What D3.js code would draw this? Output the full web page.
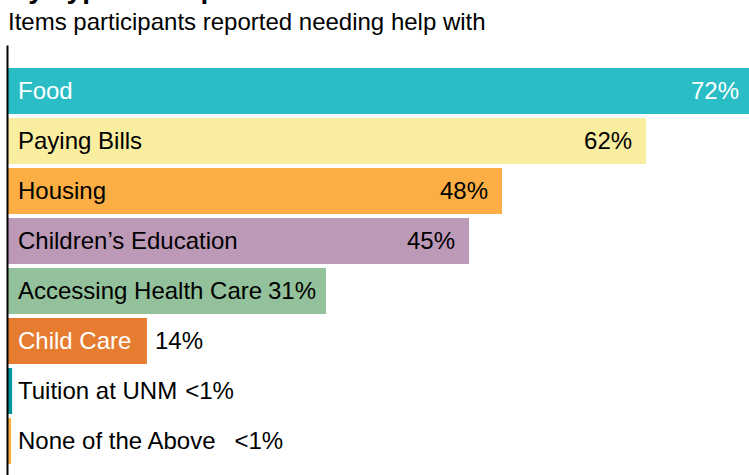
<!DOCTYPE html>
<meta charset="utf-8">
<script src="https://d3js.org/d3.v7.min.js"></script>
<style>
  body { margin: 0; background: #fff; }
  text { font-family: Arial, "Liberation Sans", sans-serif; }
</style>
<div id="chart"></div>
<script>
// data
var categories = ["Food", "Paying Bills", "Housing", "Children\u2019s Education",
                  "Accessing Health Care", "Child Care", "Tuition at UNM", "None of the Above"];
var values = [72, 62, 48, 44.8, 30.9, 13.5, 0.4, 0.3];
var valueLabels = ["72%", "62%", "48%", "45%", "31%", "14%", "<1%", "<1%"];
var colors = ["#2abdc5", "#f9eda0", "#fbae43", "#bc9ab7", "#93c19b", "#e57c30", "#00959a", "#fbae43"];
var textColors = ["#fff", "#000", "#000", "#000", "#000", "#fff", "#000", "#000"];

var width = 749, height = 475;
var margin = {top: 66, left: 8, bottom: 9};

var svg = d3.select("#chart").append("svg")
  .attr("width", width)
  .attr("height", height);

// title (runs off the top of the picture) and subtitle
svg.append("text")
  .attr("x", 8).attr("y", -2)
  .style("font-size", "28px").style("font-weight", "bold")
  .text("By Type of Help");
svg.append("text")
  .attr("x", 8).attr("y", 30)
  .style("font-size", "24px")
  .text("Items participants reported needing help with");

var x = d3.scaleLinear()
  .domain([0, 72])
  .range([margin.left, width]);

var y = d3.scaleBand()
  .domain(categories)
  .range([margin.top, height - margin.bottom])
  .paddingInner(0.08)
  .paddingOuter(0.04);

// bars
svg.selectAll(".bar")
  .data(categories)
  .enter().append("rect")
    .attr("x", x(0))
    .attr("y", function(d) { return y(d); })
    .attr("width", function(d, i) { return x(values[i]) - x(0); })
    .attr("height", y.bandwidth())
    .attr("fill", function(d, i) { return colors[i]; });

// category labels inside the bars
var catText = svg.selectAll(".cat")
  .data(categories)
  .enter().append("text")
    .attr("x", x(0) + 10)
    .attr("y", function(d) { return y(d) + y.bandwidth() / 2; })
    .attr("dy", "0.35em")
    .style("font-size", "24px")
    .attr("fill", function(d, i) { return textColors[i]; })
    .text(function(d) { return d; });

// value labels: inside the bar end if there is room, else after the label
catText.each(function(d, i) {
  var labelEnd = x(0) + 10 + this.getComputedTextLength();
  var t = svg.append("text")
    .attr("y", y(d) + y.bandwidth() / 2)
    .attr("dy", "0.35em")
    .style("font-size", "24px")
    .text(valueLabels[i]);
  var w = t.node().getComputedTextLength();
  var barEnd = x(values[i]);
  if (labelEnd + 5 + w <= barEnd - 10) {
    t.attr("x", barEnd - (i == 0 || i == 4 ? 10 : 14)).attr("text-anchor", "end")
      .attr("fill", textColors[i]);
  } else {
    t.attr("x", Math.max(barEnd, labelEnd) + (i == 7 ? 19 : 8))
      .attr("fill", "#000");
  }
});

// vertical axis line
var yAxis = d3.scaleLinear().domain([0, 1]).range([45, height]);
svg.append("g")
  .attr("transform", "translate(" + (margin.left - 1) + ",0)")
  .call(d3.axisLeft(yAxis).ticks(0).tickSize(0))
  .select(".domain")
    .attr("stroke", "#000")
    .attr("stroke-width", 2);
</script>
